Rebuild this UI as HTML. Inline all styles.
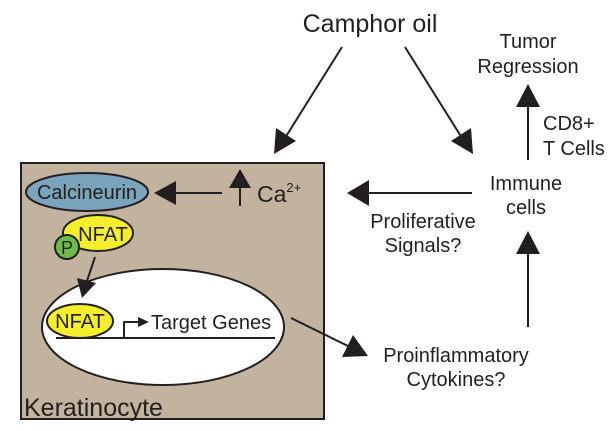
<!DOCTYPE html>
<html><head><meta charset="utf-8"><style>body{margin:0;background:#fff}svg{display:block}text{font-family:"Liberation Sans",sans-serif;fill:#231f20}</style></head>
<body>
<svg width="614" height="431" viewBox="0 0 614 431" xmlns="http://www.w3.org/2000/svg">
<rect x="21" y="163" width="303" height="256" fill="#c1b39d" stroke="#231f20" stroke-width="2"/>
<ellipse cx="87" cy="192" rx="61" ry="19" fill="#7aa3bc" stroke="#231f20" stroke-width="2"/>
<text x="87" y="199" font-size="20" text-anchor="middle">Calcineurin</text>
<ellipse cx="98" cy="233" rx="35" ry="18" fill="#f4ef2a" stroke="#231f20" stroke-width="2"/>
<text x="103" y="241" font-size="20" text-anchor="middle">NFAT</text>
<circle cx="67" cy="247" r="12" fill="#6cbd45" stroke="#231f20" stroke-width="2"/>
<text x="67" y="254" font-size="18" text-anchor="middle">P</text>
<ellipse cx="163" cy="327" rx="121" ry="58" fill="#fff" stroke="#231f20" stroke-width="2"/>
<line x1="95" y1="257" x2="86" y2="284" stroke="#231f20" stroke-width="2"/>
<path d="M77,278 L96,283 L82,298 z" fill="#231f20"/>
<ellipse cx="80" cy="321" rx="33" ry="17" fill="#f4ef2a" stroke="#231f20" stroke-width="2"/>
<text x="80" y="328" font-size="20" text-anchor="middle">NFAT</text>
<line x1="56" y1="338" x2="275" y2="338" stroke="#231f20" stroke-width="2"/>
<path d="M124,338 V322 H140" fill="none" stroke="#231f20" stroke-width="2"/>
<path d="M138,317 L149,322 L138,327 z" fill="#231f20"/>
<text x="151" y="329" font-size="20">Target Genes</text>
<line x1="222" y1="193" x2="170" y2="193" stroke="#231f20" stroke-width="2"/>
<path d="M154,193 L176,181 L176,205 z" fill="#231f20"/>
<line x1="240" y1="206" x2="240" y2="184" stroke="#231f20" stroke-width="2"/>
<path d="M240,169 L229,188 L251,188 z" fill="#231f20"/>
<text x="257" y="202" font-size="23">Ca<tspan font-size="13" dy="-10">2+</tspan></text>
<text x="24" y="416" font-size="25">Keratinocyte</text>
<text x="370" y="32" font-size="25" text-anchor="middle">Camphor oil</text>
<line x1="342" y1="47" x2="285" y2="138" stroke="#231f20" stroke-width="2"/>
<path d="M274,154 L276,128 L296,141 z" fill="#231f20"/>
<line x1="405" y1="47" x2="462" y2="138" stroke="#231f20" stroke-width="2"/>
<path d="M473,154 L451,141 L471,128 z" fill="#231f20"/>
<text x="528" y="48" font-size="20" text-anchor="middle">Tumor</text>
<text x="528" y="73" font-size="20" text-anchor="middle">Regression</text>
<line x1="528" y1="160" x2="528" y2="100" stroke="#231f20" stroke-width="2"/>
<path d="M528,84 L516,107 L540,107 z" fill="#231f20"/>
<text x="543" y="130" font-size="20">CD8+</text>
<text x="543" y="155" font-size="20">T Cells</text>
<text x="526" y="190" font-size="20" text-anchor="middle">Immune</text>
<text x="526" y="214" font-size="20" text-anchor="middle">cells</text>
<line x1="472" y1="193" x2="365" y2="193" stroke="#231f20" stroke-width="2"/>
<path d="M347,193 L369,180 L369,206 z" fill="#231f20"/>
<text x="423" y="228" font-size="20" text-anchor="middle">Proliferative</text>
<text x="423" y="252" font-size="20" text-anchor="middle">Signals?</text>
<line x1="528" y1="327" x2="528" y2="248" stroke="#231f20" stroke-width="2"/>
<path d="M528,231 L516,254 L540,254 z" fill="#231f20"/>
<text x="456" y="362" font-size="20" text-anchor="middle">Proinflammatory</text>
<text x="456" y="386" font-size="20" text-anchor="middle">Cytokines?</text>
<line x1="291" y1="318" x2="352" y2="348" stroke="#231f20" stroke-width="2"/>
<path d="M368,356 L342,357 L353,335 z" fill="#231f20"/>
</svg>
</body></html>
